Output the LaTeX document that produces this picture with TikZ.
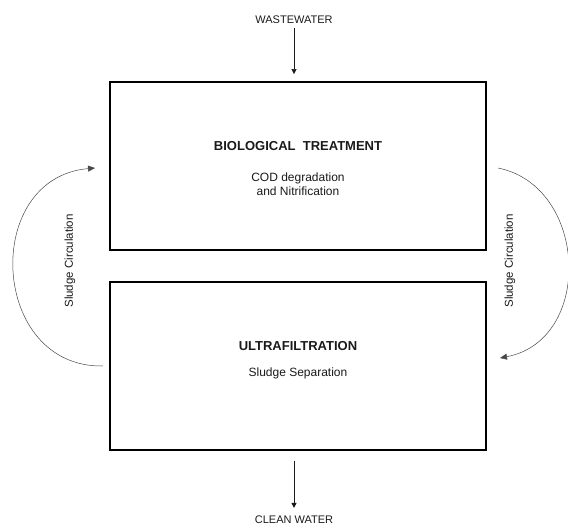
\documentclass[tikz,border=0pt]{standalone}
\usepackage{fontspec}
\setmainfont{Liberation Sans}
\usepackage{tikz}
\usetikzlibrary{arrows.meta,positioning,calc}
\definecolor{ink}{HTML}{1A1A1A}

\begin{document}
\begin{tikzpicture}[x=1pt, y=-1pt, every node/.style={font=\fontsize{11}{13}\selectfont, text=ink, inner sep=0pt}, stage/.style={draw=black, line width=1.8pt, minimum width=376pt, minimum height=168pt}, title/.style={font=\bfseries\fontsize{13}{15}\selectfont}, task/.style={font=\fontsize{12}{13.5}\selectfont, align=center}, arr/.style={-{Triangle[length=5pt,width=5pt]}, line width=0.6pt, ink}, loop/.style={-{Triangle[length=7pt,width=6pt]}, line width=0.5pt, ink!80}]
\useasboundingbox (0,0) rectangle (568,530);
\node[stage] (bio) at (298,166) {};
\node[stage] (uf) at (298,366) {};
\node (inflow) at (294,20) {WASTEWATER};
\node (outflow) at (294,520) {CLEAN WATER};
\node[title] (bioname) at (298,146) {BIOLOGICAL\ \ TREATMENT};
\node[task] (biotask) at (298,184) {COD degradation\\and Nitrification};
\node[title] (ufname) at (298,346) {ULTRAFILTRATION};
\node[task] (uftask) at (298,373) {Sludge Separation};
\node[rotate=90, font=\fontsize{11.5}{13}\selectfont] (leftlabel) at (70,261) {Sludge Circulation};
\node[rotate=90, font=\fontsize{11.5}{13}\selectfont] (rightlabel) at (510,261) {Sludge Circulation};
\coordinate (lstart) at (103,366);
\coordinate (lend) at (95,168);
\coordinate (rstart) at (498,168);
\coordinate (rend) at (500,358);
\draw[arr, shorten <=4pt, shorten >=7pt] (inflow) -- (bio.north -| inflow);
\draw[arr, shorten <=10pt, shorten >=8pt] (uf.south -| outflow) -- (outflow);
\draw[loop] (lstart) .. controls (-10,368) and (-19,178) .. (lend);
\draw[loop] (rstart) .. controls (588,186) and (594,340) .. (rend);
\end{tikzpicture}
\end{document}
